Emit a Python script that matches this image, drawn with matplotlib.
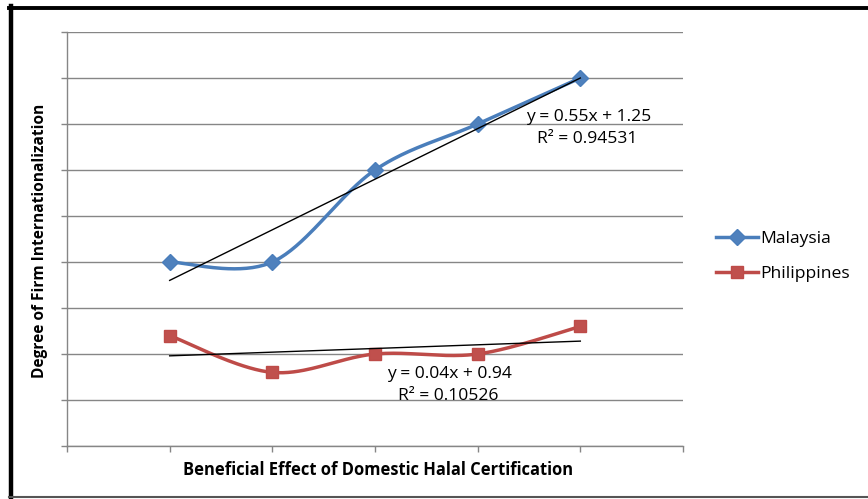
import numpy as np
import matplotlib
matplotlib.use("Agg")
import matplotlib.pyplot as plt
from matplotlib.lines import Line2D

plt.rcParams['font.family'] = ['Open Sans', 'DejaVu Sans']

# ---- data ----
x_vals = [1, 2, 3, 4, 5]
malaysia = [2.0, 2.0, 3.0, 3.5, 4.0]
philippines = [1.2, 0.8, 1.0, 1.0, 1.3]
series_names = ["Malaysia", "Philippines"]
eq_malaysia = ["y = 0.55x + 1.25", "R² = 0.94531"]
eq_philippines = ["y = 0.04x + 0.94", "R² = 0.10526"]
x_label = "Beneficial Effect of Domestic Halal Certification"
y_label = "Degree of Firm Internationalization"


def smooth(xs, ys, n=40):
    """Excel-style smoothed line (Catmull-Rom Bezier)."""
    P = np.column_stack([xs, ys]).astype(float)
    P = np.vstack([P[0], P, P[-1]])
    out = []
    for i in range(1, len(P) - 2):
        p0, p1, p2, p3 = P[i - 1], P[i], P[i + 1], P[i + 2]
        c1 = p1 + (p2 - p0) / 6.0
        c2 = p2 - (p3 - p1) / 6.0
        t = np.linspace(0, 1, n)[:, None]
        seg = ((1 - t) ** 3) * p1 + 3 * ((1 - t) ** 2) * t * c1 + 3 * (1 - t) * t ** 2 * c2 + t ** 3 * p2
        out.append(seg if i == 1 else seg[1:])
    seg = np.vstack(out)
    return seg[:, 0], seg[:, 1]


W, H = 868, 499
fig = plt.figure(figsize=(W / 100, H / 100), dpi=100)
ax = fig.add_axes([67 / W, 1 - 446 / H, (683 - 67) / W, (446 - 32) / H])

grid_c = "#868686"
ax.set_xlim(0, 6)
ax.set_ylim(0, 4.5)
ax.set_xticks(np.arange(0, 7, 1))
ax.set_yticks(np.arange(0, 4.51, 0.5))
ax.set_xticklabels([])
ax.set_yticklabels([])
ax.tick_params(axis='both', direction='out', length=4, width=1, color=grid_c)
ax.yaxis.grid(True, color=grid_c, linewidth=1)
ax.set_axisbelow(True)
for s in ['top', 'right']:
    ax.spines[s].set_visible(False)
for s in ['left', 'bottom']:
    ax.spines[s].set_color(grid_c)
    ax.spines[s].set_linewidth(1)

blue_line, blue_m = "#4A7EBB", "#4F81BD"
red_line, red_m = "#BE4B48", "#C0504D"

# Malaysia
sx, sy = smooth(x_vals, malaysia)
ax.plot(sx, sy, color=blue_line, lw=2.5, solid_capstyle='round', zorder=3)
ax.plot(x_vals, malaysia, ls='none', marker='D', ms=8, color=blue_m, mec=blue_line, zorder=4)
# Philippines
sx, sy = smooth(x_vals, philippines)
ax.plot(sx, sy, color=red_line, lw=2.5, solid_capstyle='round', zorder=3)
ax.plot(x_vals, philippines, ls='none', marker='s', ms=9, color=red_m, mec=red_line, zorder=4)

# trendlines
xs = np.array([x_vals[0], x_vals[-1]], dtype=float)
for ys in (malaysia, philippines):
    m, b = np.polyfit(x_vals, ys, 1)
    ax.plot(xs, m * xs + b, color='black', lw=1.0, zorder=5)

fs = 12.6
ax.text(5.08, 3.576, eq_malaysia[0], ha='center', va='center', fontsize=fs, zorder=6)
ax.text(5.07, 3.342, eq_malaysia[1], ha='center', va='center', fontsize=fs, zorder=6)
ax.text(3.726, 0.78, eq_philippines[0], ha='center', va='center', fontsize=fs, zorder=6)
ax.text(3.716, 0.54, eq_philippines[1], ha='center', va='center', fontsize=fs, zorder=6)

# legend
handles = [
    Line2D([], [], color=blue_line, lw=2.5, marker='D', ms=8, mfc=blue_m, mec=blue_line),
    Line2D([], [], color=red_line, lw=2.5, marker='s', ms=9, mfc=red_m, mec=red_line),
]
fig.legend(handles, series_names, loc='center left', bbox_to_anchor=(716 / W, 1 - 256.5 / H),
           frameon=False, fontsize=fs, handlelength=2.4, handletextpad=0.1,
           labelspacing=1.1, borderpad=0, borderaxespad=0)

fig.text(40 / W, 1 - 240.5 / H, y_label, rotation=90, ha='center', va='center',
         fontsize=11.2, fontweight='bold')
fig.text(378 / W, 1 - 470 / H, x_label, ha='center', va='center',
         fontsize=11.9, fontweight='bold')

# outer frame
fig.add_artist(Line2D([11 / W, 11 / W], [1 - 6 / H, 1 - 497 / H], color='black', lw=3.2,
                      transform=fig.transFigure))
fig.add_artist(Line2D([9 / W, 1.0], [1 - 7.5 / H, 1 - 7.5 / H], color='black', lw=2.8,
                      transform=fig.transFigure))
fig.add_artist(Line2D([9 / W, 1.0], [1 - 497 / H, 1 - 497 / H], color='#555555', lw=1.5,
                      transform=fig.transFigure))

fig.savefig("out.png", dpi=100)
